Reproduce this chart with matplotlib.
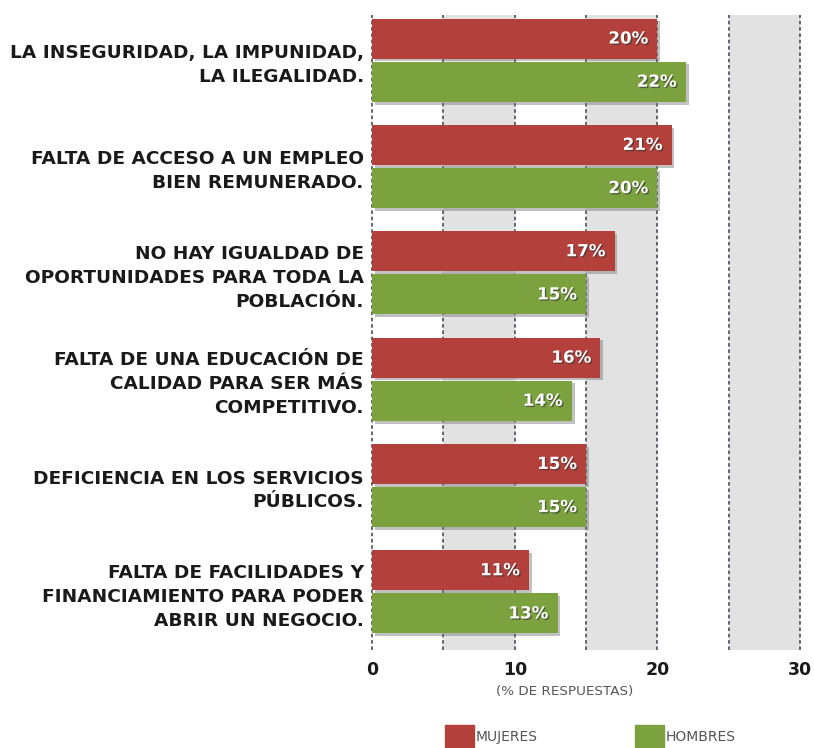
import matplotlib
matplotlib.use("Agg")
import matplotlib.pyplot as plt
import matplotlib.patheffects as pe
from matplotlib.patches import Patch
import numpy as np

categorias = [
    "LA INSEGURIDAD, LA IMPUNIDAD,\nLA ILEGALIDAD.",
    "FALTA DE ACCESO A UN EMPLEO\nBIEN REMUNERADO.",
    "NO HAY IGUALDAD DE\nOPORTUNIDADES PARA TODA LA\nPOBLACIÓN.",
    "FALTA DE UNA EDUCACIÓN DE\nCALIDAD PARA SER MÁS\nCOMPETITIVO.",
    "DEFICIENCIA EN LOS SERVICIOS\nPÚBLICOS.",
    "FALTA DE FACILIDADES Y\nFINANCIAMIENTO PARA PODER\nABRIR UN NEGOCIO.",
]
mujeres = [20, 21, 17, 16, 15, 11]
hombres = [22, 20, 15, 14, 15, 13]
xticks = [0, 10, 20, 30]

rojo = "#b3403a"
verde = "#7ba23f"
gris = "#e2e2e2"

fig = plt.figure(figsize=(8.14, 7.48), dpi=100)
ax = fig.add_axes([0.457, 0.131, 0.526, 0.849])

# bandas grises y lineas punteadas
for a in range(5, 30, 10):
    ax.axvspan(a, a + 5, color=gris, zorder=0, lw=0)
for g in range(0, 31, 5):
    ax.axvline(g, color="#555a66", lw=1.3, ls=(0, (2, 1.5)), zorder=1, clip_on=False)

y = np.arange(len(categorias))
off = 0.203
h = 0.377
sombra = [pe.SimplePatchShadow(offset=(2, -2), shadow_rgbFace="#777777", alpha=0.45), pe.Normal()]
b1 = ax.barh(y - off, mujeres, height=h, color=rojo, zorder=3)
b2 = ax.barh(y + off, hombres, height=h, color=verde, zorder=3)
for b in list(b1) + list(b2):
    b.set_path_effects(sombra)

txt_fx = [pe.withSimplePatchShadow(offset=(1, -1), shadow_rgbFace="#333333", alpha=0.6)]
for yy, v in zip(y - off, mujeres):
    ax.text(v - 0.65, yy, f"{v}%", color="white", ha="right", va="center",
            fontsize=12, fontweight="bold", zorder=4, path_effects=txt_fx)
for yy, v in zip(y + off, hombres):
    ax.text(v - 0.65, yy, f"{v}%", color="white", ha="right", va="center",
            fontsize=12, fontweight="bold", zorder=4, path_effects=txt_fx)

ax.set_xlim(0, 30)
ax.set_ylim(5.547, -0.425)
ax.set_yticks(y)
ax.set_yticklabels(categorias, fontsize=13.3, fontweight="bold", color="#1a1a1a",
                   linespacing=1.42)
ax.set_xticks(xticks)
ax.set_xticklabels([str(t) for t in xticks], fontsize=12.5, fontweight="bold", color="#1a1a1a")
ax.tick_params(length=0, pad=8)
ax.tick_params(axis="y", pad=6)
for s in ax.spines.values():
    s.set_visible(False)
ax.set_xlabel("(% DE RESPUESTAS)", fontsize=9.7, color="#555555")
ax.xaxis.set_label_coords(0.451, -0.055)

handles = [Patch(color=rojo, label="MUJERES"), Patch(color=verde, label="HOMBRES")]
fig.legend(handles=handles, loc="center", bbox_to_anchor=(0.725, 0.015), ncol=2,
           frameon=False, fontsize=10, handlelength=2.1, handleheight=2.2,
           handletextpad=0.1, columnspacing=7.0, labelcolor="#555555")

fig.savefig("out.png", dpi=100, facecolor="white")
